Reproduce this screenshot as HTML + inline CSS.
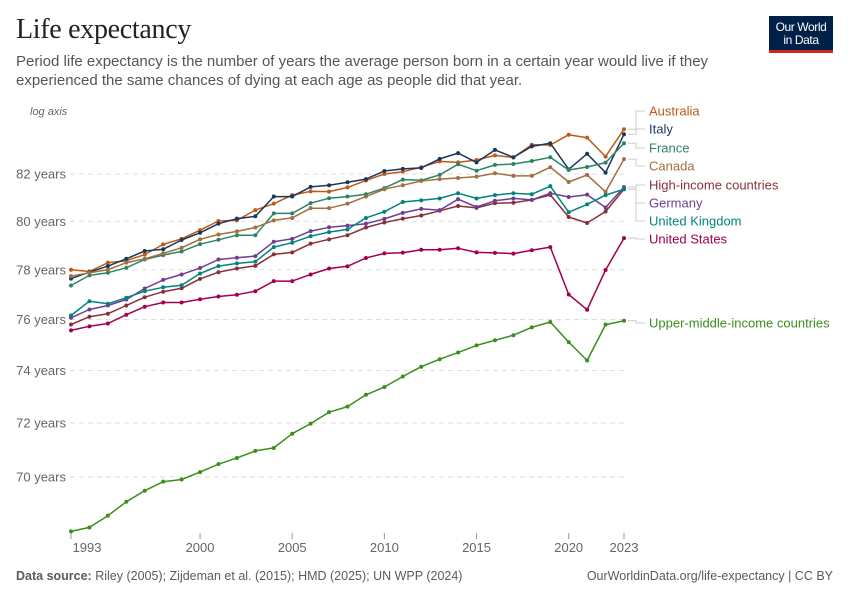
<!DOCTYPE html>
<html><head><meta charset="utf-8">
<style>
body{margin:0;background:#fff;font-family:"Liberation Sans",sans-serif;}
#wrap{position:relative;width:850px;height:600px;overflow:hidden;}
.title{position:absolute;left:16px;top:14px;font-family:"Liberation Serif",serif;font-size:28px;color:#222;letter-spacing:-0.3px;}
.sub{position:absolute;left:16px;top:52px;width:700px;font-size:15px;line-height:19px;color:#555;}
.logo{position:absolute;left:769px;top:16px;width:64px;height:37px;background:#002147;border-bottom:3px solid #ce261e;color:#fff;font-size:12px;line-height:13px;text-align:center;padding-top:5px;box-sizing:border-box;letter-spacing:-0.4px}
.foot{position:absolute;top:569px;font-size:12.5px;color:#5b5b5b;}
</style></head><body>
<div id="wrap">
<div class="title">Life expectancy</div>
<div class="sub">Period life expectancy is the number of years the average person born in a certain year would live if they experienced the same chances of dying at each age as people did that year.</div>
<div class="logo">Our World<br>in Data</div>
<svg id="chart" width="850" height="600" style="position:absolute;left:0;top:0"></svg>
<div class="foot" style="left:16px"><b>Data source:</b> Riley (2005); Zijdeman et al. (2015); HMD (2025); UN WPP (2024)</div>
<div class="foot" style="right:17px">OurWorldinData.org/life-expectancy | CC BY</div>
</div>
<script>
const years = [1993,1994,1995,1996,1997,1998,1999,2000,2001,2002,2003,2004,2005,2006,2007,2008,2009,2010,2011,2012,2013,2014,2015,2016,2017,2018,2019,2020,2021,2022,2023];
const australia = [78.0,77.93,78.29,78.37,78.62,79.04,79.27,79.63,80.01,80.04,80.47,80.74,81.1,81.26,81.25,81.43,81.72,82.0,82.1,82.29,82.54,82.5,82.6,82.8,82.71,83.26,83.25,83.7,83.57,82.75,83.94];
const italy = [77.64,77.9,78.15,78.45,78.77,78.84,79.22,79.52,79.9,80.11,80.21,81.04,81.04,81.45,81.52,81.65,81.78,82.13,82.22,82.26,82.65,82.9,82.5,83.04,82.72,83.19,83.33,82.2,82.87,82.06,83.72];
const france = [77.36,77.77,77.88,78.08,78.42,78.6,78.75,79.05,79.23,79.42,79.42,80.33,80.33,80.76,80.97,81.04,81.14,81.4,81.76,81.73,81.96,82.42,82.14,82.39,82.43,82.56,82.72,82.17,82.3,82.49,83.33];
const canada = [77.74,77.88,78.0,78.29,78.45,78.67,78.9,79.25,79.45,79.58,79.74,80.04,80.14,80.55,80.55,80.74,81.04,81.35,81.52,81.7,81.78,81.83,81.89,82.03,81.92,81.92,82.29,81.66,81.96,81.24,82.64];
const highIncome = [75.8,76.11,76.23,76.56,76.89,77.11,77.25,77.63,77.9,78.05,78.16,78.63,78.71,79.07,79.25,79.42,79.74,79.95,80.11,80.24,80.44,80.64,80.56,80.76,80.78,80.9,81.11,80.18,79.93,80.41,81.35];
const germany = [76.07,76.4,76.56,76.8,77.24,77.59,77.81,78.07,78.42,78.49,78.56,79.15,79.27,79.59,79.75,79.82,79.9,80.1,80.35,80.52,80.47,80.93,80.6,80.86,80.96,80.9,81.18,81.02,81.12,80.58,81.44];
const uk = [76.16,76.73,76.63,76.87,77.13,77.29,77.37,77.85,78.15,78.26,78.33,78.93,79.11,79.38,79.55,79.66,80.14,80.4,80.81,80.88,80.96,81.18,80.96,81.1,81.18,81.14,81.48,80.38,80.71,81.1,81.35];
const us = [75.57,75.73,75.84,76.19,76.51,76.68,76.68,76.81,76.92,76.99,77.13,77.54,77.54,77.81,78.05,78.14,78.48,78.67,78.7,78.82,78.82,78.88,78.71,78.69,78.66,78.8,78.93,77.0,76.39,77.99,79.3];
const upperMiddle = [68.04,68.18,68.6,69.1,69.5,69.83,69.91,70.18,70.47,70.7,70.96,71.07,71.6,71.98,72.41,72.62,73.07,73.37,73.77,74.15,74.44,74.7,74.98,75.18,75.38,75.69,75.9,75.11,74.39,75.8,75.95];
const seriesNames = ["Australia","Italy","France","Canada","High-income countries","Germany","United Kingdom","United States","Upper-middle-income countries"];
const yTicks = [70,72,74,76,78,80,82];
const xTicks = [1993,2000,2005,2010,2015,2020,2023];

const colors = ["#c05917","#18375f","#2c8465","#a2703f","#883039","#6d3e91","#00847e","#a2004f","#3a8e1c"];
const labelY = [111,129,148,166,185,203,221,239,323];
const allSeries = [australia,italy,france,canada,highIncome,germany,uk,us,upperMiddle];
const NS = "http://www.w3.org/2000/svg";
const svg = document.getElementById("chart");
const x = yr => 71 + (yr - 1993) * (624 - 71) / 30;
const y = v => 174 + Math.log(82 / v) * 1915;
function mk(tag, attrs, parent){const e=document.createElementNS(NS,tag);for(const k in attrs)e.setAttribute(k,attrs[k]);(parent||svg).appendChild(e);return e;}

const axisLab = mk("text",{x:30,y:115,"font-size":11,"font-style":"italic",fill:"#666"});
axisLab.textContent = "log axis";



yTicks.forEach(t=>{
  const g = mk("line",{x1:70,x2:624,y1:y(t),y2:y(t),stroke:"#ddd","stroke-dasharray":"5,4"});
  
  
  const tx = mk("text",{x:66,y:y(t)+4.5,"text-anchor":"end","font-size":13,fill:"#666"});
  tx.textContent = t + " years";
  
  
});
xTicks.forEach(t=>{
  const tk = mk("line",{x1:x(t),x2:x(t),y1:533,y2:539,stroke:"#999"});
  
  
  const tx = mk("text",{x:t===1993?x(t)+16:x(t),y:552,"text-anchor":"middle","font-size":13,fill:"#666"});
  tx.textContent = t;
  
  
});

allSeries.forEach((data,si)=>{
  const g = mk("g",{});
  
  
  const pts = data.map((v,i)=>x(years[i]).toFixed(1)+","+y(v).toFixed(1)).join(" ");
  mk("polyline",{points:pts,fill:"none",stroke:colors[si],"stroke-width":1.5,"stroke-linejoin":"round"},g);
  data.forEach((v,i)=>{
    const c = mk("circle",{cx:x(years[i]),cy:y(v),r:2,fill:colors[si]},g);
    
    
  });
  const ey = y(data[data.length-1]);
  const ly = labelY[si];
  const con = mk("polyline",{points:`628,${ey} 636,${ey} 636,${ly} 645,${ly}`,fill:"none",stroke:"#ccc","stroke-width":1});
  
  
  const lb = mk("text",{x:649,y:ly+4.5,"font-size":13,fill:colors[si]});
  lb.textContent = seriesNames[si];
  
  
});
</script>
</body></html>
